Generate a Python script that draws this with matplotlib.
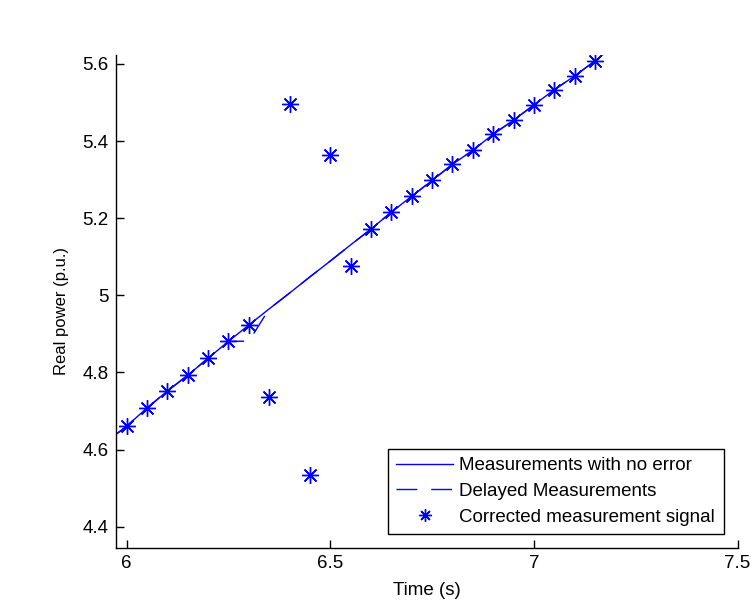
import matplotlib
matplotlib.use("Agg")
import matplotlib.pyplot as plt

plt.rcParams['font.family'] = ['Liberation Sans', 'DejaVu Sans']

# Corrected measurement signal (stars)
t_star = [6.00, 6.05, 6.10, 6.15, 6.20, 6.25, 6.30, 6.35, 6.40, 6.45, 6.50, 6.55,
          6.60, 6.65, 6.70, 6.75, 6.80, 6.85, 6.90, 6.95, 7.00, 7.05, 7.10, 7.15]
p_star = [4.661, 4.708, 4.752, 4.793, 4.837, 4.881, 4.923, 4.736, 5.496, 4.534, 5.364, 5.076,
          5.172, 5.216, 5.257, 5.298, 5.340, 5.376, 5.418, 5.454, 5.494, 5.533, 5.569, 5.608]

# Measurements with no error (solid line)
t_true = [5.95, 6.00, 6.05, 6.10, 6.15, 6.20, 6.25, 6.30, 6.35, 6.40, 6.45, 6.50, 6.55,
          6.60, 6.65, 6.70, 6.75, 6.80, 6.85, 6.90, 6.95, 7.00, 7.05, 7.10, 7.15, 7.20]
p_true = [4.620, 4.661, 4.708, 4.752, 4.793, 4.837, 4.881, 4.923, 4.965, 5.006, 5.048, 5.089, 5.131,
          5.172, 5.216, 5.257, 5.298, 5.340, 5.376, 5.418, 5.454, 5.494, 5.533, 5.569, 5.608, 5.650]

# Delayed measurements (dashed line)
t_delay = [5.95, 6.00, 6.05, 6.10, 6.15, 6.20, 6.25, 6.30, 6.35, 6.40, 6.45, 6.50, 6.55,
           6.60, 6.65, 6.70, 6.75, 6.80, 6.85, 6.90, 6.95, 7.00, 7.05, 7.10, 7.15, 7.20]
p_delay = [4.620, 4.661, 4.708, 4.752, 4.793, 4.837, 4.881, 4.881, 4.965, 5.006, 5.048, 5.089, 5.131,
           5.172, 5.216, 5.257, 5.298, 5.340, 5.376, 5.418, 5.454, 5.494, 5.533, 5.569, 5.608, 5.650]

xticks = [6, 6.5, 7, 7.5]
xticklabels = ['6', '6.5', '7', '7.5']
yticks = [4.4, 4.6, 4.8, 5.0, 5.2, 5.4, 5.6]
yticklabels = ['4.4', '4.6', '4.8', '5', '5.2', '5.4', '5.6']

FS = 13.5

fig = plt.figure(figsize=(7.51, 6.01), dpi=100)
ax = fig.add_axes([115.5 / 751, 53 / 601, (737.5 - 115.5) / 751, (548 - 55) / 601])

blue = (0, 0, 1)
ax.plot(t_true, p_true, color=blue, lw=1.0, label='Measurements with no error')
ax.plot(t_delay, p_delay, color=blue, lw=1.0, linestyle=(14.8, (15, 10)),
        label='Delayed Measurements')
ax.plot(t_star, p_star, linestyle='none', marker=(8, 2, 0), markersize=12, mew=1.0,
        color=blue, label='Corrected measurement signal')

ax.set_xlim(5.9725, 7.5)
ax.set_ylim(4.3448, 5.6233)
ax.set_xticks(xticks)
ax.set_xticklabels(xticklabels)
ax.set_yticks(yticks)
ax.set_yticklabels(yticklabels)

for s in ['top', 'right']:
    ax.spines[s].set_visible(False)
for s in ['left', 'bottom']:
    ax.spines[s].set_linewidth(1.0)
    ax.spines[s].set_color('black')

ax.tick_params(direction='in', length=5.5, width=1.0, labelsize=FS, pad=5.0, colors='black')

ax.set_xlabel('Time (s)', fontsize=FS, labelpad=7)
ax.set_ylabel('Real power (p.u.)', fontsize=12)
ax.yaxis.set_label_coords(-0.074, 0.48)

lx0, lx1 = 388 / 751, 723.5 / 751
ly0, ly1 = (601 - 534) / 601, (601 - 448) / 601
leg = ax.legend(loc='lower left', bbox_to_anchor=(lx0, ly0, lx1 - lx0, ly1 - ly0),
                bbox_transform=fig.transFigure, mode='expand', fontsize=FS, frameon=True,
                fancybox=False, edgecolor='black', framealpha=1, handlelength=3.0,
                handletextpad=0.33, borderpad=0.45, labelspacing=0.45, borderaxespad=0)
leg.get_frame().set_linewidth(1.0)
hs = leg.legend_handles
hs[1].set_dashes((15, 10))
hs[2].set_markersize(9)

fig.savefig('out.png', dpi=100)
